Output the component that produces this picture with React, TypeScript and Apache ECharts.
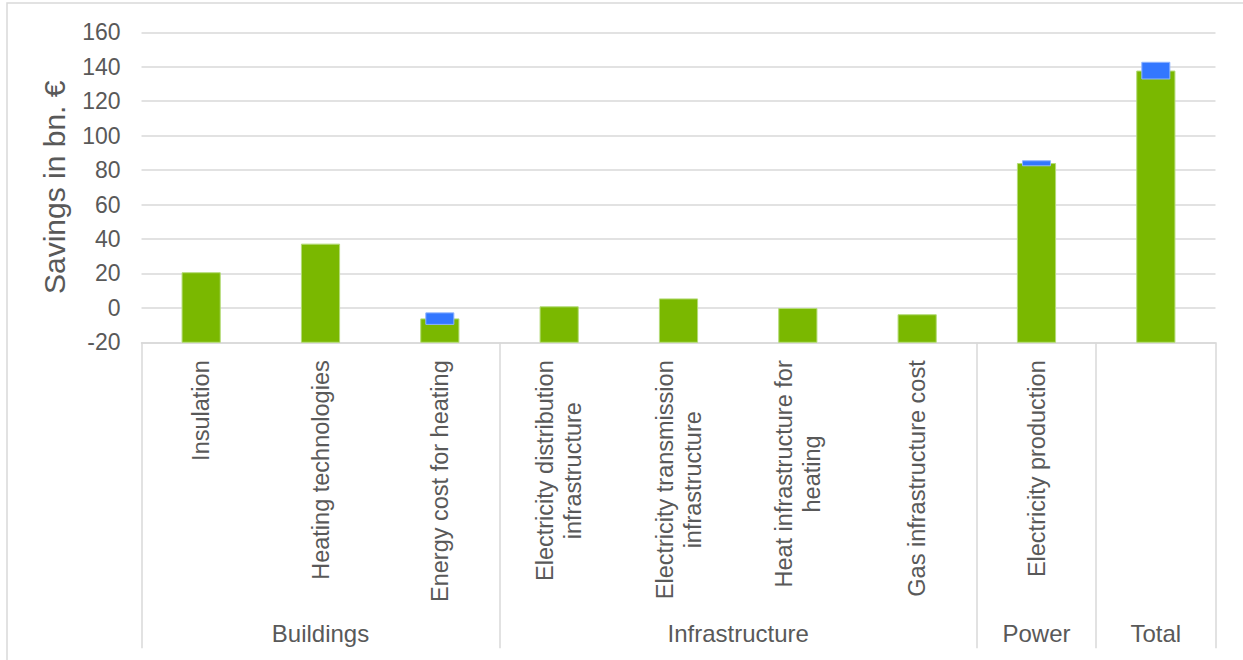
import React, { useEffect, useRef } from "react";
import * as echarts from "echarts";

const categories = [
  "Insulation",
  "Heating technologies",
  "Energy cost for heating",
  "Electricity distribution\ninfrastructure",
  "Electricity transmission\ninfrastructure",
  "Heat infrastructure for\nheating",
  "Gas infrastructure cost",
  "Electricity production",
  "Total",
];
const savings = [20.4, 37.0, -6.4, 0.6, 5.2, -0.4, -4.0, 83.8, 137.5];
const rangeLow: (number | null)[] = [null, null, -9.6, null, null, null, null, 82.5, 132.9];
const rangeHigh: (number | null)[] = [null, null, -2.9, null, null, null, null, 85.4, 142.6];
const groups = ["Buildings", "Infrastructure", "Power", "Total"];
const groupSizes = [3, 4, 1, 1];
const yMin = -20;
const yMax = 160;
const yStep = 20;

const FONT = "'Liberation Sans', Arial, sans-serif";
const TEXT = "#595959";
const GRID = "#D9D9D9";

export default function App() {
  const ref = useRef<HTMLDivElement>(null);
  useEffect(() => {
    if (!ref.current) return;
    const chart = echarts.init(ref.current, undefined, { renderer: "svg" });

    // half-slot points for the group axis
    const halfData: string[] = new Array(categories.length * 2 + 1).fill("");
    const boundaryIdx = new Set<number>([0]);
    // categories whose name repeats the group name get no label of their own
    const hiddenCat = new Set<number>();
    let start = 0;
    groups.forEach((g, k) => {
      halfData[2 * start + groupSizes[k]] = g;
      if (groupSizes[k] === 1 && categories[start] === g) hiddenCat.add(start);
      start += groupSizes[k];
      boundaryIdx.add(2 * start);
    });

    const greenData = savings.map((v, i) => [i, v]);
    const blueData: number[][] = [];
    rangeLow.forEach((lo, i) => {
      const hi = rangeHigh[i];
      if (lo !== null && hi !== null) blueData.push([i, lo, hi]);
    });

    const option: any = {
      animation: false,
      backgroundColor: "#ffffff",
      grid: { left: 141.5, right: 27.5, top: 32.3, bottom: 317.7, containLabel: false },
      xAxis: [
        {
          type: "category",
          data: categories,
          boundaryGap: true,
          axisLine: { show: true, onZero: false, lineStyle: { color: GRID, width: 1.5 } },
          axisTick: { show: false },
          splitLine: { show: false },
          axisLabel: {
            interval: (idx: number) => !hiddenCat.has(idx),
            rotate: 90,
            margin: 18,
            color: TEXT,
            fontFamily: FONT,
            fontSize: 23.5,
            lineHeight: 28,
            formatter: (v: string) =>
              v
                .split("\n")
                .map((s) => `{c|${s}}`)
                .join("\n"),
            rich: {
              c: { align: "center", color: TEXT, fontFamily: FONT, fontSize: 23.5, lineHeight: 28 },
            },
          },
        },
        {
          type: "category",
          position: "bottom",
          data: halfData,
          boundaryGap: false,
          axisLine: { show: false, onZero: false },
          axisTick: {
            show: true,
            length: 306,
            interval: (idx: number) => boundaryIdx.has(idx),
            lineStyle: { color: GRID, width: 1.5 },
          },
          splitLine: { show: false },
          axisLabel: {
            interval: (idx: number, v: string) => v !== "",
            margin: 279,
            color: TEXT,
            fontFamily: FONT,
            fontSize: 24,
          },
        },
      ],
      yAxis: {
        type: "value",
        min: yMin,
        max: yMax,
        interval: yStep,
        name: "Savings in bn. €",
        nameLocation: "middle",
        nameGap: 72,
        nameTextStyle: { color: TEXT, fontFamily: FONT, fontSize: 30 },
        axisLine: { show: false },
        axisTick: { show: false },
        splitLine: { show: true, lineStyle: { color: GRID, width: 1.5 } },
        axisLabel: { color: TEXT, fontFamily: FONT, fontSize: 23, margin: 21 },
      },
      graphic: [
        {
          type: "rect",
          shape: { x: 7, y: 3, width: 1250, height: 670 },
          style: { fill: "none", stroke: GRID, lineWidth: 1.5 },
          silent: true,
        },
      ],
      series: [
        {
          type: "custom",
          name: "Savings",
          xAxisIndex: 0,
          yAxisIndex: 0,
          encode: { x: 0, y: 1 },
          data: greenData,
          renderItem: (params: any, api: any) => {
            const i = api.value(0);
            const v = api.value(1);
            const top = api.coord([i, v]);
            const base = api.coord([i, yMin]);
            const w = api.size([1, 0])[0] * 0.32;
            return {
              type: "rect",
              shape: { x: top[0] - w / 2, y: top[1], width: w, height: base[1] - top[1] },
              style: { fill: "#7AB800", stroke: "#B4DB78", lineWidth: 1 },
            };
          },
        },
        {
          type: "custom",
          name: "Range",
          xAxisIndex: 0,
          yAxisIndex: 0,
          encode: { x: 0, y: [1, 2] },
          data: blueData,
          z: 3,
          renderItem: (params: any, api: any) => {
            const i = api.value(0);
            const lo = api.coord([i, api.value(1)]);
            const hi = api.coord([i, api.value(2)]);
            const w = api.size([1, 0])[0] * 0.235;
            return {
              type: "rect",
              shape: { x: lo[0] - w / 2, y: hi[1], width: w, height: lo[1] - hi[1] },
              style: { fill: "#3377FF", stroke: "#8FB4FF", lineWidth: 1 },
            };
          },
        },
      ],
    };
    chart.setOption(option);
    return () => chart.dispose();
  }, []);
  return (
    <div
      ref={ref}
      style={{ position: "absolute", left: 0, top: 0, width: 1243, height: 660 }}
    />
  );
}
